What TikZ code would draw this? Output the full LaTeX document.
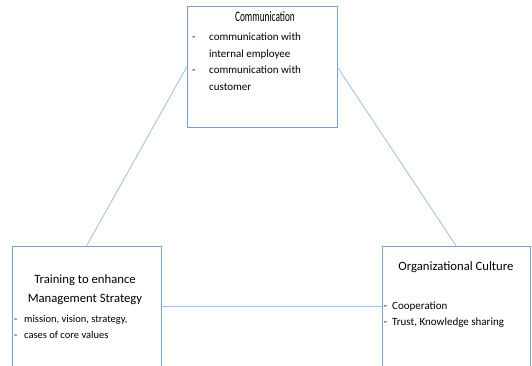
\documentclass[tikz,border=0pt]{standalone}
\usepackage{fontspec}
\setmainfont{Carlito}
\definecolor{boxedge}{HTML}{7F9CC1}
\definecolor{linkline}{HTML}{A4C4E6}
\tikzset{
  box/.style={draw=boxedge, line width=0.95pt, fill=white, rectangle, inner sep=0pt, outer sep=0pt},
  link/.style={draw=linkline, line width=0.9pt},
  title/.style={inner sep=0pt, anchor=base, font=\fontsize{12.7}{15}\selectfont},
  item/.style={inner sep=0pt, anchor=base west, font=\fontsize{11}{13}\selectfont},
  smallitem/.style={inner sep=0pt, anchor=base west, font=\fontsize{10.5}{12}\selectfont},
}
\begin{document}
\begin{tikzpicture}[x=1pt, y=-1pt]
\useasboundingbox (0,0) rectangle (532,366);
\clip (0,0) rectangle (532,366);

% the three boxes
\node[box, minimum width=150pt, minimum height=121pt] (comm) at (262,66.5) {};
\node[box, minimum width=149pt, minimum height=121pt] (train) at (86.5,306.5) {};
\node[box, minimum width=148.5pt, minimum height=121pt] (culture) at (456.25,306.5) {};

% connectors between the boxes
\draw[link] (comm.west) -- (train.north);
\draw[link] (comm.east) -- (culture.north);
\draw[link] (train.east) -- (culture.west);

% Communication
\node[title, font=\fontsize{14.5}{16}\selectfont] (commtitle) at (265,22) {\scalebox{0.64}[1]{Communication}};
\node[item] (cd1) at (192,41) {-};
\node[item] (ct1) at (209,41) {communication with};
\node[item] (ct2) at (209,57.5) {internal employee};
\node[item] (cd2) at (192,74) {-};
\node[item] (ct3) at (209,74) {communication with};
\node[item] (ct4) at (209,90.5) {customer};

% Training to enhance Management Strategy
\node[title] (traintitle1) at (85,283) {Training to enhance};
\node[title] (traintitle2) at (85,302.5) {Management Strategy};
\node[smallitem] (td1) at (14,322) {-};
\node[smallitem] (tt1) at (24,322) {mission, vision, strategy,};
\node[smallitem] (td2) at (14,338) {-};
\node[smallitem] (tt2) at (24,338) {cases of core values};

% Organizational Culture
\node[title] (culttitle) at (456,270.5) {Organizational Culture};
\node[item] (od1) at (383.5,309) {-};
\node[item] (ot1) at (392,309) {Cooperation};
\node[item] (od2) at (383.5,325.5) {-};
\node[item] (ot2) at (392,325.5) {Trust, Knowledge sharing};
\end{tikzpicture}
\end{document}
